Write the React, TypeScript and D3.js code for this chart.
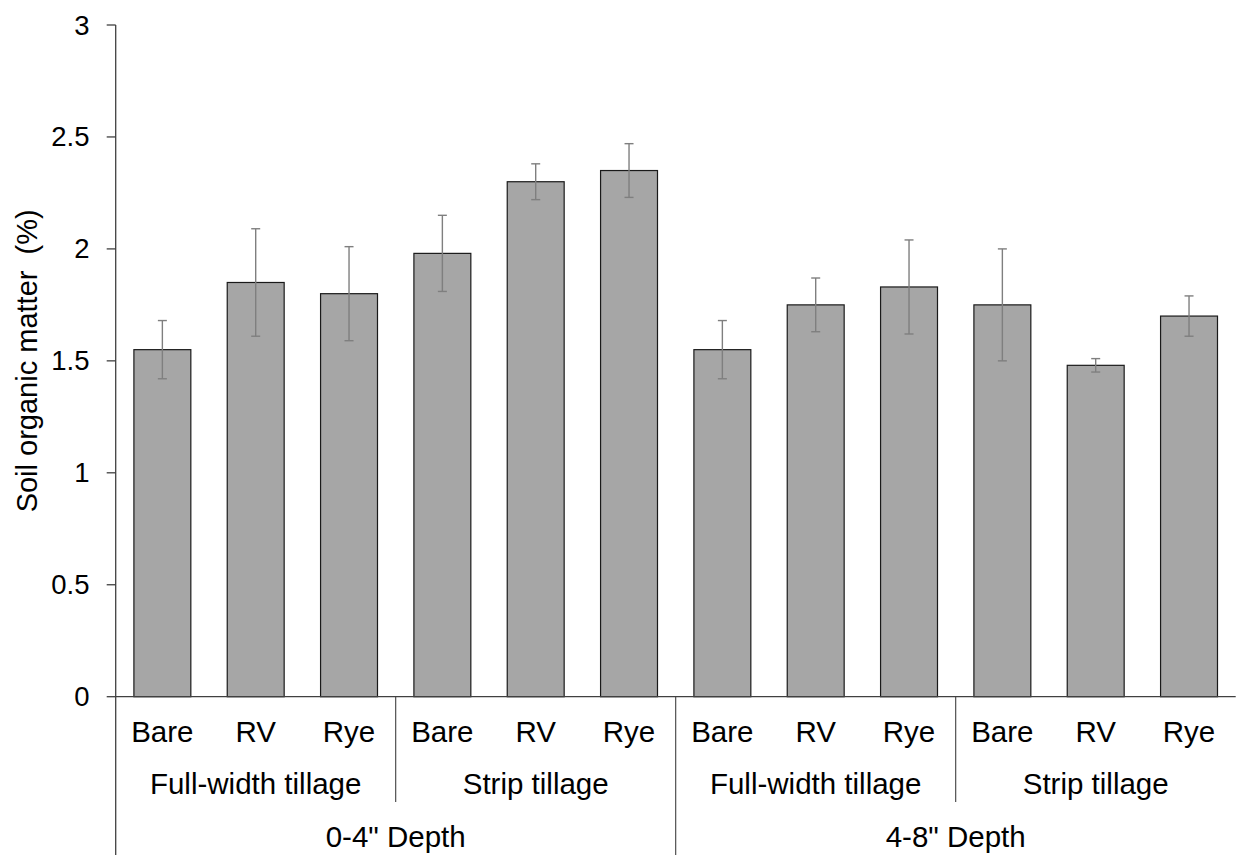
import React from "react";
import * as d3 from "d3";

const depths = ['0-4" Depth', '4-8" Depth'];
const tillages = ["Full-width tillage", "Strip tillage"];
const covers = ["Bare", "RV", "Rye"];
const values = [1.55, 1.85, 1.8, 1.98, 2.3, 2.35, 1.55, 1.75, 1.83, 1.75, 1.48, 1.7];
const errors = [0.13, 0.24, 0.21, 0.17, 0.08, 0.12, 0.13, 0.12, 0.21, 0.25, 0.03, 0.09];
const yTicks = [0, 0.5, 1, 1.5, 2, 2.5, 3];
const yLabel = "Soil organic matter  (%)";

const W = 1236;
const H = 855;
const left = 115.7;
const right = 1235.7;
const top = 25;
const bottom = 696.7;
const FONT = "'Liberation Sans', Arial, sans-serif";

export default function App() {
  const cats: { key: string; cover: string; ti: number; di: number }[] = [];
  depths.forEach((d, di) =>
    tillages.forEach((t, ti) =>
      covers.forEach((c) => cats.push({ key: `${di}-${ti}-${c}`, cover: c, ti, di }))
    )
  );
  const x = d3
    .scaleBand<string>()
    .domain(cats.map((c) => c.key))
    .range([left, right])
    .paddingInner(0.39)
    .paddingOuter(0.195);
  const y = d3.scaleLinear().domain([0, 3]).range([bottom, top]);
  const step = x.step();
  const bw = x.bandwidth();

  const tillGroups: { label: string; start: number }[] = [];
  depths.forEach((d, di) =>
    tillages.forEach((t, ti) => tillGroups.push({ label: t, start: (di * 2 + ti) * 3 }))
  );

  return (
    <svg
      width={W}
      height={H}
      style={{ position: "absolute", left: 0, top: 0, background: "#fff" }}
      fontFamily={FONT}
    >
      <rect x={0} y={0} width={W} height={H} fill="#fff" />
      {/* bars */}
      {cats.map((c, i) => (
        <rect
          key={c.key}
          x={x(c.key)!}
          y={y(values[i])}
          width={bw}
          height={y(0) - y(values[i])}
          fill="#a6a6a6"
          stroke="#1a1a1a"
          strokeWidth={1.2}
        />
      ))}
      {/* error bars */}
      {cats.map((c, i) => {
        const cx = x(c.key)! + bw / 2;
        const y1 = y(values[i] + errors[i]);
        const y2 = y(values[i] - errors[i]);
        return (
          <g key={"e" + c.key} stroke="#7f7f7f" strokeWidth={1.4}>
            <line x1={cx} x2={cx} y1={y1} y2={y2} />
            <line x1={cx - 4.5} x2={cx + 4.5} y1={y1} y2={y1} />
            <line x1={cx - 4.5} x2={cx + 4.5} y1={y2} y2={y2} />
          </g>
        );
      })}
      {/* y axis */}
      <line x1={left} x2={left} y1={top} y2={H} stroke="#404040" strokeWidth={1.3} />
      {yTicks.map((t) => (
        <g key={t}>
          <line x1={left - 9} x2={left} y1={y(t)} y2={y(t)} stroke="#404040" strokeWidth={1.3} />
          <text x={89.5} y={y(t) + 9.5} textAnchor="end" fontSize={27.5} fill="#000">
            {String(t)}
          </text>
        </g>
      ))}
      {/* x axis */}
      <line x1={left} x2={right} y1={bottom} y2={bottom} stroke="#404040" strokeWidth={1.3} />
      {/* separators */}
      {[3, 9].map((k) => (
        <line
          key={"s" + k}
          x1={left + k * step}
          x2={left + k * step}
          y1={bottom}
          y2={802}
          stroke="#404040"
          strokeWidth={1.1}
        />
      ))}
      <line x1={left + 6 * step} x2={left + 6 * step} y1={bottom} y2={H} stroke="#404040" strokeWidth={1.1} />
      {/* category labels */}
      {cats.map((c) => (
        <text
          key={"l" + c.key}
          x={x(c.key)! + bw / 2}
          y={741.7}
          textAnchor="middle"
          fontSize={29.5}
          fill="#000"
        >
          {c.cover}
        </text>
      ))}
      {tillGroups.map((g, i) => (
        <text
          key={"t" + i}
          x={left + (g.start + 1.5) * step}
          y={794.3}
          textAnchor="middle"
          fontSize={29.5}
          fill="#000"
        >
          {g.label}
        </text>
      ))}
      {depths.map((d, i) => (
        <text
          key={"d" + i}
          x={left + (i * 6 + 3) * step}
          y={846.7}
          textAnchor="middle"
          fontSize={29.5}
          fill="#000"
        >
          {d}
        </text>
      ))}
      <text
        transform={`translate(36.7,${(top + bottom) / 2}) rotate(-90)`}
        textAnchor="middle"
        fontSize={29}
        fill="#000"
        style={{ whiteSpace: "pre" }}
      >
        {yLabel}
      </text>
    </svg>
  );
}
